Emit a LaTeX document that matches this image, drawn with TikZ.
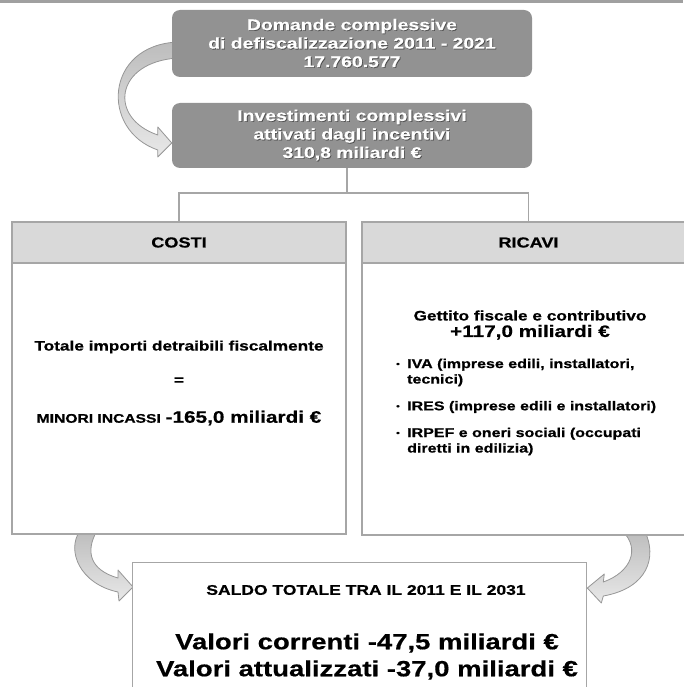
\documentclass[tikz,border=0pt]{standalone}
\usepackage{fontspec}
\newfontfamily\lsans[FakeStretch=1.25,BoldFeatures={FakeBold=0.6}]{Liberation Sans}
\usetikzlibrary{calc,backgrounds}
\definecolor{BoxGray}{RGB}{146,146,146}
\definecolor{LineGray}{RGB}{166,166,166}
\definecolor{HeadGray}{RGB}{217,217,217}
\definecolor{RibbonEdge}{RGB}{150,150,150}
\definecolor{TopRule}{RGB}{160,160,160}
\newcommand{\shadowed}[1]{\leavevmode\rlap{\kern0.8pt\raisebox{-0.8pt}{\textcolor{black!70}{#1}}}#1}
\newcommand{\dotb}{\makebox[11pt][l]{\fontsize{8}{8}\selectfont\raisebox{1.4pt}{\textbullet}}}

\begin{document}
\begin{tikzpicture}[
  x=1pt,y=-1pt,
  darkbox/.style={rectangle,rounded corners=8pt,fill=BoxGray,text=white,align=center,
              minimum width=360pt,inner sep=0pt,
              font=\lsans\bfseries\fontsize{15.5}{18.5}\selectfont},
  panel/.style={rectangle,draw=LineGray,line width=1.3pt,fill=white,inner sep=0pt},
  head/.style={rectangle,draw=LineGray,line width=1.3pt,fill=HeadGray,minimum height=41pt,
              inner sep=0pt,font=\lsans\bfseries\fontsize{14.5}{16}\selectfont},
  txt/.style={align=center,inner sep=0pt,font=\lsans\bfseries\fontsize{13.8}{16.5}\selectfont},
  item/.style={align=left,anchor=west,inner sep=0pt,
              font=\lsans\bfseries\fontsize{12.8}{15.5}\selectfont},
  conn/.style={draw=LineGray,line width=1.6pt},
  ribbon/.style={draw=RibbonEdge,line width=0.8pt,line join=round,
              top color=black!26,bottom color=black!9}
]
  \useasboundingbox (0,0) rectangle (683,687);
  \draw[TopRule,line width=3pt] (0,1.5) -- (683,1.5);

  % top boxes
  \node[darkbox,minimum height=67pt] (dom) at (352,43.5)
    {\shadowed{Domande complessive}\\ \shadowed{di defiscalizzazione 2011 - 2021}\\ \shadowed{17.760.577}};
  \node[darkbox,minimum height=65pt] (inv) at (352,135.5)
    {\shadowed{Investimenti complessivi}\\ \shadowed{attivati dagli incentivi}\\ \shadowed{310,8 miliardi €}};

  % costi / ricavi
  \node[panel,minimum width=334pt,minimum height=312pt] (costi) at (179,378) {};
  \node[head,minimum width=334pt,anchor=north] (costih) at (costi.north) {COSTI};
  \node[panel,minimum width=333pt,minimum height=313pt] (ricavi) at (528.5,378.5) {};
  \node[head,minimum width=333pt,anchor=north] (ricavih) at (ricavi.north) {RICAVI};

  \node[txt] (tot) at (179,347) {Totale importi detraibili fiscalmente};
  \node[txt] (eq) at (179,381) {=};
  \node[txt] (minori) at (179,418)
    {{\fontsize{12.5}{15}\selectfont MINORI INCASSI} {\fontsize{16.6}{20}\selectfont -165,0 miliardi €}};

  \node[txt] (gett) at (530,325)
    {Gettito fiscale e contributivo\\{\fontsize{16.6}{20}\selectfont +117,0 miliardi €}};
  \node[item] (iva) at (396,372.5) {\dotb IVA (imprese edili, installatori,\\\hspace*{11pt}tecnici)};
  \node[item] (ires) at (396,407) {\dotb IRES (imprese edili e installatori)};
  \node[item] (irpef) at (396,441.5) {\dotb IRPEF e oneri sociali (occupati\\\hspace*{11pt}diretti in edilizia)};

  % saldo
  \node[panel,minimum width=454pt,minimum height=150pt,anchor=north west] (saldo) at (132,562) {};
  \node[txt,font=\lsans\bfseries\fontsize{14}{16}\selectfont] (sttl) at (366,590)
    {SALDO TOTALE TRA IL 2011 E IL 2031};
  \node[txt,font=\lsans\bfseries\fontsize{22}{27}\selectfont] (vals) at (367,656.5)
    {Valori correnti -47,5 miliardi €\\Valori attualizzati -37,0 miliardi €};

  % connectors
  \coordinate (split) at ([xshift=-5pt,yshift=-25pt]inv.south);
  \draw[conn] ([xshift=-5pt]inv.south) -- (split);
  \draw[conn] (costih.north) |- (split) -| (ricavih.north);

  \begin{scope}[on background layer]
    \draw[ribbon] ($(dom.west)+(6,-1.5)$) .. controls +(-73,3) and +(-58,-20) .. ($(inv.west)+(-14,14.5)$)
      -- ++(0,7) -- ($(inv.west)+(0,7.5)$) -- ($(inv.west)+(-14,-8.5)$) -- ++(0,8)
      .. controls +(-50,-17) and +(-63,4) .. ($(dom.west)+(6,14.5)$) -- cycle;
    \draw[ribbon] ($(costi.south)+(-99,-4)$) .. controls +(-14,20) and +(-38,-8) .. ($(saldo.north west)+(-14,30)$)
      -- ++(1,9) -- ($(saldo.north west)+(1,25)$) -- ($(saldo.north west)+(-14,8)$) -- ++(0,8)
      .. controls +(-28,-8) and +(-12,21) .. ($(costi.south)+(-82,-4)$) -- cycle;
    \draw[ribbon] ($(ricavi.south)+(94.5,-4)$) .. controls +(17,17) and +(28,-10) .. ($(saldo.north east)+(16,20)$)
      -- ($(saldo.north east)+(17,12)$) -- ($(saldo.north east)+(0,26)$) -- ($(saldo.north east)+(14,41)$)
      -- ($(saldo.north east)+(16,34)$) .. controls +(45,-8) and +(12,25) .. ($(ricavi.south)+(116.5,-4)$) -- cycle;
  \end{scope}
\end{tikzpicture}
\end{document}
